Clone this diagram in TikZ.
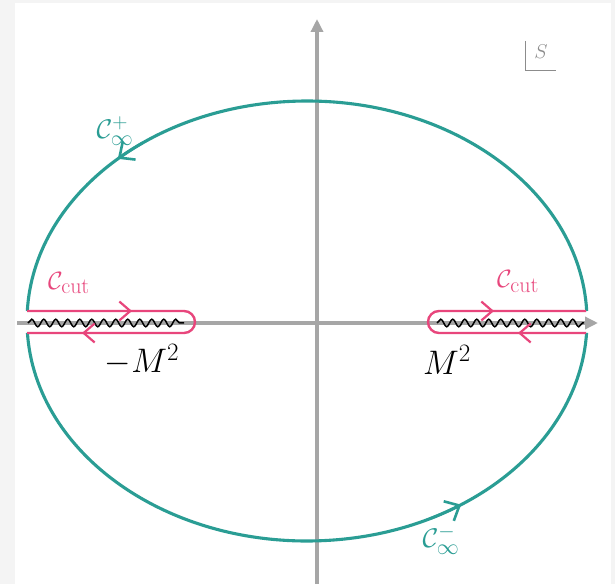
\RequirePackage{fix-cm}
\documentclass[tikz,border=0pt]{standalone}
\usetikzlibrary{arrows.meta,decorations.pathmorphing}
\definecolor{tealc}{HTML}{2A9D94}
\definecolor{pinkc}{HTML}{E8467C}
\definecolor{axisc}{HTML}{A6A6A6}
\definecolor{bgc}{HTML}{F4F4F4}
\definecolor{markc}{HTML}{8C8C8C}
\newcommand{\sz}[2]{\mbox{\fontsize{#1}{#1}\selectfont$#2$}}
\begin{document}
\begin{tikzpicture}[x=1pt,y=1pt,
  axisline/.style={axisc,line width=3.5pt},
  contour/.style={tealc,line width=3.1pt},
  cutloop/.style={pinkc,line width=2.4pt},
  tealarrow/.style={tealc,line width=2.6pt,-{Straight Barb[length=12pt,width=22pt]}},
  pinkarrow/.style={pinkc,line width=2.2pt,-{Straight Barb[length=11pt,width=19pt]}},
  wiggle/.style={black,line width=1.5pt,decorate,decoration={snake,amplitude=3.8pt,segment length=12pt}},
  lbl/.style={inner sep=0pt}]
\useasboundingbox (0,0) rectangle (615,584);
\fill[bgc] (0,0) rectangle (615,584);
\fill[white] (15,0) rectangle (611,581);
% axes
\draw[axisline,-{Triangle[length=13pt,width=12pt]}] (17,261) -- (598,261);
\draw[axisline,-{Triangle[length=13pt,width=12pt]}] (317,0) -- (317,565);
% big contour
\draw[contour] ([shift={(307,263)}]2.6:280 and 220) arc[start angle=2.6,end angle=177.4,x radius=280,y radius=220];
\draw[contour] ([shift={(307,263)}]183.1:280 and 220) arc[start angle=183.1,end angle=356.9,x radius=280,y radius=220];
\draw[tealarrow] ([shift={(307,263)}]126:280 and 220) arc[start angle=126,end angle=132.5,x radius=280,y radius=220];
\draw[tealarrow] ([shift={(307,263)}]296:280 and 220) arc[start angle=296,end angle=303.4,x radius=280,y radius=220];
% branch cuts
\draw[wiggle] (28,261) -- (184,261);
\draw[wiggle] (437,261) -- (584,261);
% cut contours
\draw[cutloop] (27,273) -- (184,273) arc[start angle=90,end angle=-90,radius=11] -- (27,251);
\draw[cutloop] (586,273) -- (439,273) arc[start angle=90,end angle=270,radius=11] -- (586,251);
\draw[pinkarrow] (110,273) -- (132,273);
\draw[pinkarrow] (103,251) -- (82,251);
\draw[pinkarrow] (472,273) -- (494,273);
\draw[pinkarrow] (540,251) -- (518,251);
% labels
\node[lbl,tealc] (cinfp) at (115,453) {\sz{27}{\mathcal{C}^{\sz{21}{+}}_{\sz{22}{\infty}}}};
\node[lbl,tealc] (cinfm) at (441,44) {\sz{27}{\mathcal{C}^{\sz{21}{-}}_{\sz{22}{\infty}}}};
\node[lbl,pinkc] (cutl) at (69,301) {\sz{25}{\mathcal{C}_{\sz{22}{\mathrm{cut}}}}};
\node[lbl,pinkc] (cutr) at (518,303) {\sz{25}{\mathcal{C}_{\sz{22}{\mathrm{cut}}}}};
\node[lbl] (mml) at (142,224) {\sz{34}{-M^{\sz{25}{2}}}};
\node[lbl] (mmr) at (447,224) {\sz{34}{M^{\sz{25}{2}}}};
% s-plane mark
\draw[markc,line width=1pt] (525,543) -- (525,513) -- (556,513);
\node[lbl,markc] (splane) at (541,532) {\sz{20}{S}};
\end{tikzpicture}
\end{document}
